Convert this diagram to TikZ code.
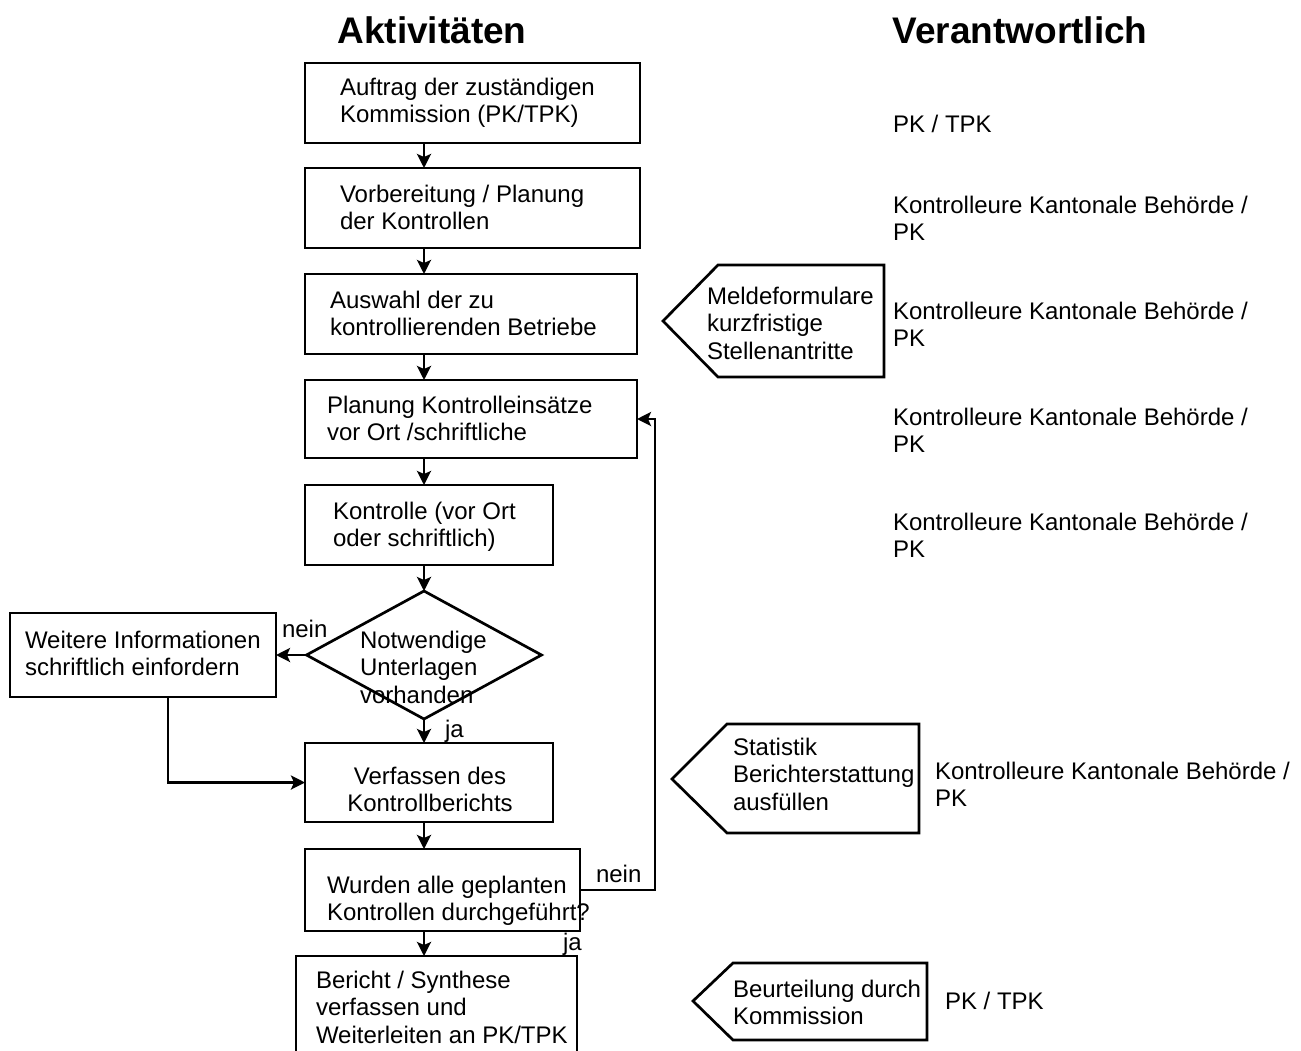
\documentclass[tikz,border=0pt]{standalone}
\usepackage{fontspec}
\setmainfont{Liberation Sans}
\usetikzlibrary{arrows.meta,shapes.geometric}
\newcommand{\ltab}[1]{\begin{tabular}[t]{@{}l@{}}#1\end{tabular}}
\newcommand{\ctab}[1]{\begin{tabular}[t]{@{}c@{}}#1\end{tabular}}
\tikzset{
  every node/.style={inner sep=0pt, outer sep=0pt},
  box/.style={draw, line width=2.7pt, rectangle, anchor=north west},
  dia/.style={draw, line width=2.7pt, diamond},
  txt/.style={anchor=base west, font=\fontsize{24}{27.6}\selectfont},
  ctxt/.style={anchor=base, font=\fontsize{24}{27.6}\selectfont},
  head/.style={anchor=base, font=\fontsize{37}{42}\selectfont\bfseries},
  con/.style={line width=2.7pt, -{Stealth[length=14pt,width=14pt,inset=3pt]}},
  ln/.style={line width=2.7pt, line join=miter},
}
\begin{document}
\begin{tikzpicture}[x=1pt,y=-1pt]
\useasboundingbox (0,0) rectangle (1301,1050);
\clip (0,0) rectangle (1301,1050);
\fill[white] (0,0) rectangle (1301,1050);

% headings
\node[head] (h1) at (432,43) {Aktivitäten};
\node[head] (h2) at (1020,43) {Verantwortlich};

\coordinate (axis) at (424,0);

% boxes
\node[box, minimum width=335, minimum height=80] (b1) at (305,63) {};
\node[txt] (t1) at (340,95) {\ltab{Auftrag der zuständigen\\Kommission (PK/TPK)}};

\node[box, minimum width=335, minimum height=80] (b2) at (305,168) {};
\node[txt] (t2) at (340,202) {\ltab{Vorbereitung / Planung\\der Kontrollen}};

\node[box, minimum width=332, minimum height=80] (b3) at (305,274) {};
\node[txt] (t3) at (330,308) {\ltab{Auswahl der zu\\kontrollierenden Betriebe}};

\node[box, minimum width=332, minimum height=78] (b4) at (305,380) {};
\node[txt] (t4) at (327,413) {\ltab{Planung Kontrolleinsätze\\vor Ort /schriftliche}};

\node[box, minimum width=248, minimum height=80] (b5) at (305,485) {};
\node[txt] (t5) at (333,519) {\ltab{Kontrolle (vor Ort\\oder schriftlich)}};

\node[dia, minimum width=235, minimum height=128] (d) at (424,655) {};
\node[txt] (td) at (360,648) {\ltab{Notwendige\\Unterlagen\\vorhanden}};

\node[box, minimum width=266, minimum height=84] (w) at (10,613) {};
\node[txt] (tw) at (25,648) {\ltab{Weitere Informationen\\schriftlich einfordern}};

\node[box, minimum width=248, minimum height=79] (v) at (305,743) {};
\node[ctxt] (tv) at (430,784) {\ctab{Verfassen des\\Kontrollberichts}};

\node[box, minimum width=275, minimum height=82] (wu) at (305,849) {};
\node[txt] (twu) at (327,893) {\ltab{Wurden alle geplanten\\Kontrollen durchgeführt?}};

\node[box, minimum width=281, minimum height=110] (be) at (296,956) {};
\node[txt] (tbe) at (316,988) {\ltab{Bericht / Synthese\\verfassen und\\Weiterleiten an PK/TPK}};

% connectors
\draw[con] (axis |- b1.south) -- (axis |- b2.north);
\draw[con] (axis |- b2.south) -- (axis |- b3.north);
\draw[con] (axis |- b3.south) -- (axis |- b4.north);
\draw[con] (axis |- b4.south) -- (axis |- b5.north);
\draw[con] (axis |- b5.south) -- (d.north);
\draw[con] (d.south) -- (axis |- v.north);
\draw[con] (axis |- v.south) -- (axis |- wu.north);
\draw[con] (axis |- wu.south) -- (axis |- be.north);
\draw[con] (d.west) -- (w.east);
\draw[con] ([xshift=25pt]w.south) |- (v.west);
\draw[con] (wu.east) -- ++(75,0) |- (b4.east);

% labels
\node[txt] (n1) at (282,637) {nein};
\node[txt] (j1) at (445,737) {ja};
\node[txt] (n2) at (596,882) {nein};
\node[txt] (j2) at (563,950) {ja};

% side shapes
\draw[ln] (663,321) -- (718,265) -- (884,265) -- (884,377) -- (718,377) -- cycle;
\node[txt] (s1) at (707,304) {\ltab{Meldeformulare\\kurzfristige\\Stellenantritte}};

\draw[ln] (672,779) -- (727,724) -- (919,724) -- (919,833) -- (727,833) -- cycle;
\node[txt] (s2) at (733,755) {\ltab{Statistik\\Berichterstattung\\ausfüllen}};

\draw[ln] (693,1001) -- (733,963) -- (927,963) -- (927,1040) -- (733,1040) -- cycle;
\node[txt] (s3) at (733,997) {\ltab{Beurteilung durch\\Kommission}};

% responsible
\node[txt] (r1) at (893,132) {PK / TPK};
\node[txt] (r2) at (893,213) {\ltab{Kontrolleure Kantonale Behörde /\\PK}};
\node[txt] (r3) at (893,319) {\ltab{Kontrolleure Kantonale Behörde /\\PK}};
\node[txt] (r4) at (893,425) {\ltab{Kontrolleure Kantonale Behörde /\\PK}};
\node[txt] (r5) at (893,530) {\ltab{Kontrolleure Kantonale Behörde /\\PK}};
\node[txt] (r6) at (935,779) {\ltab{Kontrolleure Kantonale Behörde /\\PK}};
\node[txt] (r7) at (945,1009) {PK / TPK};
\end{tikzpicture}
\end{document}
